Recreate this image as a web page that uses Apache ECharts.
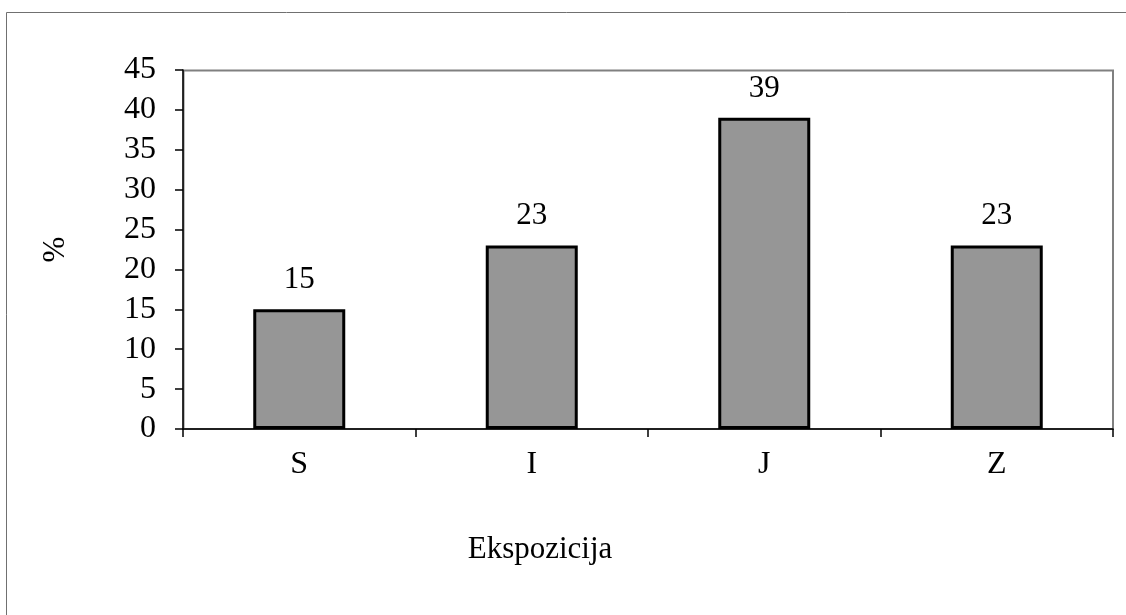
<!DOCTYPE html>
<html>
<head>
<meta charset="utf-8">
<script src="https://cdn.jsdelivr.net/npm/echarts@6/dist/echarts.min.js"></script>
<style>
html,body{margin:0;padding:0;background:#fff;}
#chart{width:1126px;height:615px;}
</style>
</head>
<body>
<div id="chart"></div>
<script>
const categories = ['S', 'I', 'J', 'Z'];
const values = [15, 23, 39, 23];
const yAxisName = '%';
const xAxisName = 'Ekspozicija';

const chart = echarts.init(document.getElementById('chart'));
const FONT = '"Liberation Serif", "Times New Roman", serif';
chart.setOption({
  backgroundColor: '#fff',
  animation: false,
  graphic: [
    { type: 'rect', shape: { x: 6.5, y: 12.5, width: 1130, height: 620 },
      style: { fill: 'none', stroke: '#707070', lineWidth: 1 }, z: -1 },
    { type: 'rect', shape: { x: 183.5, y: 70.5, width: 929.5, height: 358.5 },
      style: { fill: 'none', stroke: '#808080', lineWidth: 2 }, z: 0 },
    { type: 'text', x: 540, y: 550,
      style: { text: xAxisName, font: '31px ' + FONT, fill: '#000', align: 'center', verticalAlign: 'middle' } }
  ],
  grid: { left: 183, right: 13, top: 70, bottom: 186, containLabel: false },
  xAxis: {
    type: 'category',
    data: categories,
    boundaryGap: true,
    axisLine: { lineStyle: { color: '#000', width: 1.5 } },
    axisTick: { show: true, length: 8, lineStyle: { color: '#000', width: 1.5 } },
    axisLabel: { fontFamily: FONT, fontSize: 32, color: '#000', margin: 20 },
    splitLine: { show: false }
  },
  yAxis: {
    type: 'value',
    min: 0, max: 45, interval: 5,
    name: yAxisName,
    nameLocation: 'middle',
    nameGap: 112,
    nameRotate: 90,
    nameTextStyle: { fontFamily: FONT, fontSize: 31, color: '#000' },
    axisLine: { show: true, lineStyle: { color: '#000', width: 1.5 } },
    axisTick: { show: true, length: 8, lineStyle: { color: '#000', width: 1.5 } },
    axisLabel: { fontFamily: FONT, fontSize: 32, color: '#000', margin: 27 },
    splitLine: { show: false }
  },
  series: [{
    type: 'bar',
    data: values,
    barWidth: 92,
    itemStyle: { color: '#969696', borderColor: '#000', borderWidth: 3 },
    label: { show: true, position: 'top', distance: 14, fontFamily: FONT, fontSize: 31, color: '#000' }
  }]
});
</script>
</body>
</html>
